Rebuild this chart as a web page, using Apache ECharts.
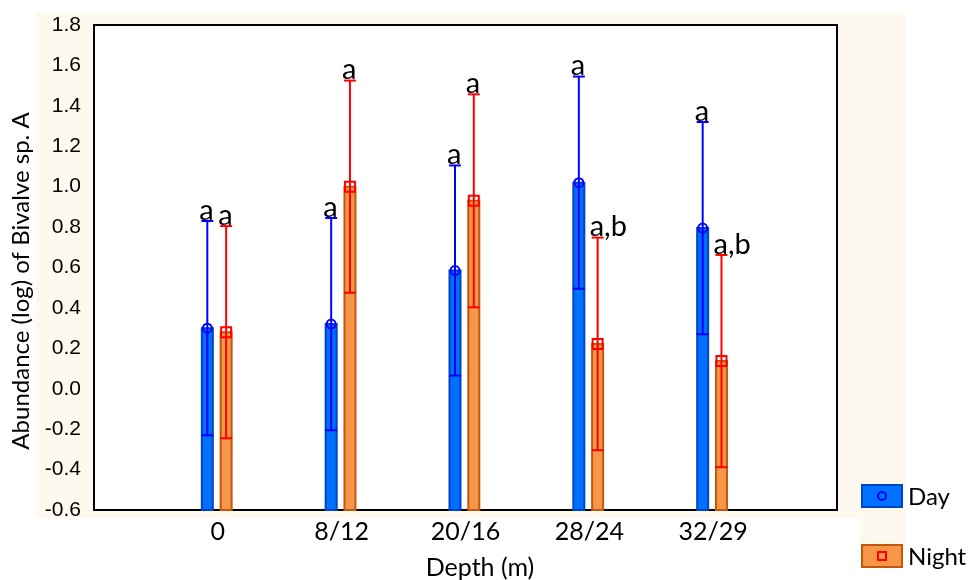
<!DOCTYPE html>
<html>
<head>
<meta charset="utf-8">
<script src="https://cdn.jsdelivr.net/npm/echarts@6/dist/echarts.min.js"></script>
<style>
  html, body { margin: 0; padding: 0; background: #ffffff; }
  #chart { width: 969px; height: 580px; }
</style>
</head>
<body>
<div id="chart"></div>
<script>
// Depth strata (day depth / night depth)
const categories = ['0', '8/12', '20/16', '28/24', '32/29'];

// Mean log abundance and error half-width per stratum
const dayMean   = [0.30, 0.32, 0.585, 1.02, 0.795];
const dayErr    = [0.53, 0.525, 0.52, 0.525, 0.525];
const nightMean = [0.28, 1.00, 0.93, 0.222, 0.137];
const nightErr  = [0.525, 0.525, 0.527, 0.526, 0.525];

// Post-hoc group letters
const dayLetters   = ['a', 'a', 'a', 'a', 'a'];
const nightLetters = ['a', 'a', 'a', 'a,b', 'a,b'];

// Value axis range and step
const yMin = -0.6;
const yMax = 1.8;
const yStep = 0.2;

const LABEL_FONT = 'Lato, "Open Sans", sans-serif';

const styles = {
  day: {
    fill: '#0070FF', border: '#0042C8', err: '#0000FF', marker: 'circle', offset: -10.5
  },
  night: {
    fill: '#F79646', border: '#C0580F', err: '#FF0000', marker: 'square', offset: 8.3
  }
};

function makeRenderer(kind, letters) {
  const s = styles[kind];
  return function (params, api) {
    const i = api.value(0);
    const m = api.value(1);
    const e = api.value(2);
    const pBase = api.coord([i, yMin]);
    const pMean = api.coord([i, m]);
    const pHi = api.coord([i, m + e]);
    const pLo = api.coord([i, m - e]);
    const cx = pBase[0] + s.offset;
    const w = 11;
    const children = [];
    // bar from axis floor to the mean
    children.push({
      type: 'rect',
      shape: { x: cx - w / 2, y: pMean[1], width: w, height: pBase[1] - pMean[1] },
      style: { fill: s.fill, stroke: s.border, lineWidth: 2 }
    });
    // whisker
    const capW = 12;
    const errStyle = { stroke: s.err, lineWidth: 2, fill: null };
    children.push({ type: 'line', shape: { x1: cx, y1: pHi[1], x2: cx, y2: pLo[1] }, style: errStyle });
    children.push({ type: 'line', shape: { x1: cx - capW / 2, y1: pHi[1], x2: cx + capW / 2, y2: pHi[1] }, style: errStyle });
    children.push({ type: 'line', shape: { x1: cx - capW / 2, y1: pLo[1], x2: cx + capW / 2, y2: pLo[1] }, style: errStyle });
    // mean marker
    if (s.marker === 'circle') {
      children.push({ type: 'circle', shape: { cx: cx, cy: pMean[1], r: 4.5 }, style: { stroke: s.err, lineWidth: 2, fill: null } });
    } else {
      children.push({ type: 'rect', shape: { x: cx - 5, y: pMean[1] - 5, width: 10, height: 10 }, style: { stroke: s.err, lineWidth: 2, fill: null } });
    }
    // group letter above the upper cap
    children.push({
      type: 'text',
      style: {
        x: cx - 8, y: pHi[1] + 4,
        text: letters[params.dataIndex],
        fill: '#000', font: '29px ' + LABEL_FONT,
        align: 'left', verticalAlign: 'bottom'
      }
    });
    return { type: 'group', children: children };
  };
}

const dayData = categories.map((c, i) => [i, dayMean[i], dayErr[i]]);
const nightData = categories.map((c, i) => [i, nightMean[i], nightErr[i]]);

const chart = echarts.init(document.getElementById('chart'), null, { renderer: 'canvas' });

const tickStyle = { show: true, inside: true, length: 4, lineStyle: { color: '#000', width: 2 } };

chart.setOption({
  animation: false,
  backgroundColor: '#ffffff',
  grid: {
    left: 94, top: 25, right: 132, bottom: 70,
    show: true, backgroundColor: '#ffffff', borderColor: '#000', borderWidth: 2, z: 1
  },
  graphic: [
    { type: 'rect', z: -10, shape: { x: 36, y: 12, width: 869, height: 506 }, style: { fill: '#FEF9EF' } },
    { type: 'rect', z: -10, shape: { x: 860, y: 518, width: 45, height: 30 }, style: { fill: '#FEF9EF' } },
    // legend: Day
    { type: 'rect', z: 10, shape: { x: 862, y: 485, width: 40, height: 22 }, style: { fill: '#0070FF', stroke: '#0042C8', lineWidth: 2 } },
    { type: 'circle', z: 11, shape: { cx: 882, cy: 496, r: 4 }, style: { fill: null, stroke: '#0000FF', lineWidth: 2 } },
    { type: 'text', z: 10, style: { x: 908, y: 497, text: 'Day', font: '24px ' + LABEL_FONT, fill: '#000', verticalAlign: 'middle' } },
    // legend: Night
    { type: 'rect', z: 10, shape: { x: 862, y: 545, width: 40, height: 22 }, style: { fill: '#F79646', stroke: '#C0580F', lineWidth: 2 } },
    { type: 'rect', z: 11, shape: { x: 878, y: 552, width: 8, height: 8 }, style: { fill: null, stroke: '#FF0000', lineWidth: 2 } },
    { type: 'text', z: 10, style: { x: 908, y: 557, text: 'Night', font: '24px ' + LABEL_FONT, fill: '#000', verticalAlign: 'middle' } },
    // axis titles
    { type: 'text', z: 10, rotation: Math.PI / 2, x: 21, y: 281,
      style: { x: 0, y: 0, text: 'Abundance (log) of Bivalve sp. A', font: '24px ' + LABEL_FONT, fill: '#000', align: 'center', verticalAlign: 'middle' } },
    { type: 'text', z: 10, style: { x: 480, y: 568, text: 'Depth (m)', font: '25px ' + LABEL_FONT, fill: '#000', align: 'center', verticalAlign: 'middle' } }
  ],
  xAxis: [
    {
      type: 'value', min: -1, max: 5, interval: 1, position: 'bottom',
      axisLine: { show: false },
      axisTick: tickStyle,
      splitLine: { show: true, lineStyle: { color: '#DCDCDC', width: 1.5 } },
      axisLabel: {
        margin: 9, color: '#000', fontSize: 25, fontFamily: LABEL_FONT,
        formatter: v => (v >= 0 && v < categories.length) ? categories[v] : ''
      }
    },
    {
      type: 'value', min: -1, max: 5, interval: 1, position: 'top',
      axisLine: { show: false }, axisTick: tickStyle,
      axisLabel: { show: false }, splitLine: { show: false }
    }
  ],
  yAxis: [
    {
      type: 'value', min: yMin, max: yMax, interval: yStep, position: 'left',
      axisLine: { show: false },
      axisTick: tickStyle,
      splitLine: { show: true, lineStyle: { color: '#DCDCDC', width: 1.5 } },
      axisLabel: {
        margin: 13, color: '#000', fontSize: 21, fontFamily: '"Liberation Sans", Arial, sans-serif',
        formatter: v => v.toFixed(1)
      }
    },
    {
      type: 'value', min: yMin, max: yMax, interval: yStep, position: 'right',
      axisLine: { show: false }, axisTick: tickStyle,
      axisLabel: { show: false }, splitLine: { show: false }
    }
  ],
  series: [
    {
      name: 'Day', type: 'custom', xAxisIndex: 0, yAxisIndex: 0, z: 5,
      renderItem: makeRenderer('day', dayLetters),
      data: dayData, clip: false
    },
    {
      name: 'Night', type: 'custom', xAxisIndex: 0, yAxisIndex: 0, z: 5,
      renderItem: makeRenderer('night', nightLetters),
      data: nightData, clip: false
    }
  ]
});
</script>
</body>
</html>
